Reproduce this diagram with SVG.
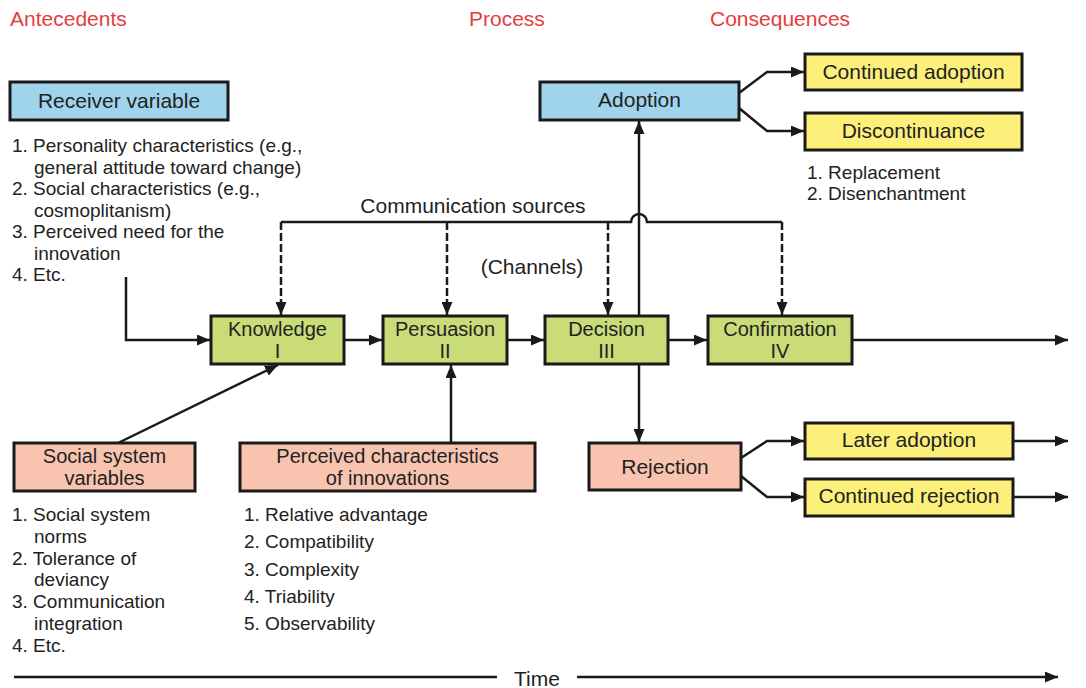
<svg xmlns="http://www.w3.org/2000/svg" width="1086" height="688" viewBox="0 0 1086 688">
  <style>
    text { font-family: "Liberation Sans", Arial, sans-serif; fill: #222; }
    .hdr { font-size: 21px; fill: #e63c3c; }
    .lbl { font-size: 21px; text-anchor: middle; }
    .lbl2 { font-size: 20px; text-anchor: middle; }
    .lst { font-size: 19px; }
    .box { stroke: #1a1a1a; stroke-width: 3; }
    .blue { fill: #9fd4ec; }
    .green { fill: #c9dc78; }
    .salmon { fill: #f8c4b0; }
    .yellow { fill: #fdf07a; }
    .line { fill: none; stroke: #1a1a1a; stroke-width: 2.5; }
    .dash { stroke-dasharray: 8 3; }
  </style>
  <defs>
    <marker id="arrow" markerUnits="userSpaceOnUse" markerWidth="13" markerHeight="11" refX="13" refY="5.5" orient="auto">
      <path d="M0,0 L13,5.5 L0,11 z" fill="#1a1a1a"/>
    </marker>
  </defs>
  <rect width="1086" height="688" fill="#ffffff"/>

  <!-- Column headings -->
  <text class="hdr" x="10" y="26">Antecedents</text>
  <text class="hdr" x="469" y="26">Process</text>
  <text class="hdr" x="710" y="26">Consequences</text>

  <!-- Connectors -->
  <g id="connectors">
    <!-- receiver variables into knowledge -->
    <path class="line" d="M126 277 V340 H210" marker-end="url(#arrow)"/>
    <!-- process chain -->
    <path class="line" d="M345 340 H382" marker-end="url(#arrow)"/>
    <path class="line" d="M508 340 H544" marker-end="url(#arrow)"/>
    <path class="line" d="M669 340 H707" marker-end="url(#arrow)"/>
    <path class="line" d="M853 340 H1068" marker-end="url(#arrow)"/>
    <!-- communication sources bus with hop over the adoption line -->
    <path class="line" d="M281 222 H631 A8 8 0 0 1 647 222 H782"/>
    <path class="line dash" d="M281 222 V315" marker-end="url(#arrow)"/>
    <path class="line dash" d="M447 222 V315" marker-end="url(#arrow)"/>
    <path class="line dash" d="M608 222 V315" marker-end="url(#arrow)"/>
    <path class="line dash" d="M782 222 V315" marker-end="url(#arrow)"/>
    <!-- decision outcomes -->
    <path class="line" d="M639 316 V121" marker-end="url(#arrow)"/>
    <path class="line" d="M639 364 V442" marker-end="url(#arrow)"/>
    <!-- social system and perceived characteristics -->
    <path class="line" d="M118 443 L278 365" marker-end="url(#arrow)"/>
    <path class="line" d="M451 443 V365" marker-end="url(#arrow)"/>
    <!-- adoption branches -->
    <path class="line" d="M739 93 L767 72 H804" marker-end="url(#arrow)"/>
    <path class="line" d="M739 108 L767 131 H804" marker-end="url(#arrow)"/>
    <!-- rejection branches -->
    <path class="line" d="M741 458 L767 441 H804" marker-end="url(#arrow)"/>
    <path class="line" d="M741 476 L767 497 H804" marker-end="url(#arrow)"/>
    <path class="line" d="M1013 441 H1068" marker-end="url(#arrow)"/>
    <path class="line" d="M1013 497 H1068" marker-end="url(#arrow)"/>
    <!-- time axis -->
    <path class="line" d="M14 677 H497"/>
    <path class="line" d="M577 677 H1058" marker-end="url(#arrow)"/>
  </g>

  <text class="lbl" x="473" y="213">Communication sources</text>
  <text class="lbl" x="532" y="274">(Channels)</text>
  <text class="lbl" x="537" y="686">Time</text>

  <!-- Antecedents -->
  <g id="receiver-variable">
    <rect class="box blue" x="10" y="82" width="218" height="38"/>
    <text class="lbl" x="119" y="108">Receiver variable</text>
    <text class="lst" x="12" y="152">1. Personality characteristics (e.g.,</text>
    <text class="lst" x="34" y="173.5">general attitude toward change)</text>
    <text class="lst" x="12" y="195">2. Social characteristics (e.g.,</text>
    <text class="lst" x="34" y="216.5">cosmoplitanism)</text>
    <text class="lst" x="12" y="238">3. Perceived need for the</text>
    <text class="lst" x="34" y="259.5">innovation</text>
    <text class="lst" x="12" y="281">4. Etc.</text>
  </g>

  <g id="social-system-variables">
    <rect class="box salmon" x="14" y="443" width="181" height="48"/>
    <text class="lbl2" x="104.5" y="463">Social system</text>
    <text class="lbl2" x="104.5" y="485">variables</text>
    <text class="lst" x="12" y="521">1. Social system</text>
    <text class="lst" x="34" y="543">norms</text>
    <text class="lst" x="12" y="565">2. Tolerance of</text>
    <text class="lst" x="34" y="586">deviancy</text>
    <text class="lst" x="12" y="608">3. Communication</text>
    <text class="lst" x="34" y="630">integration</text>
    <text class="lst" x="12" y="652">4. Etc.</text>
  </g>

  <g id="perceived-characteristics">
    <rect class="box salmon" x="240" y="443" width="295" height="48"/>
    <text class="lbl2" x="387.5" y="463">Perceived characteristics</text>
    <text class="lbl2" x="387.5" y="485">of innovations</text>
    <text class="lst" x="244" y="521">1. Relative advantage</text>
    <text class="lst" x="244" y="548">2. Compatibility</text>
    <text class="lst" x="244" y="575.5">3. Complexity</text>
    <text class="lst" x="244" y="603">4. Triability</text>
    <text class="lst" x="244" y="630">5. Observability</text>
  </g>

  <!-- Process stages -->
  <g id="knowledge">
    <rect class="box green" x="211" y="316" width="133" height="48"/>
    <text class="lbl2" x="277.5" y="336">Knowledge</text>
    <text class="lbl2" x="277.5" y="358">I</text>
  </g>
  <g id="persuasion">
    <rect class="box green" x="383" y="316" width="124" height="48"/>
    <text class="lbl2" x="445" y="336">Persuasion</text>
    <text class="lbl2" x="445" y="358">II</text>
  </g>
  <g id="decision">
    <rect class="box green" x="545" y="316" width="123" height="48"/>
    <text class="lbl2" x="606.5" y="336">Decision</text>
    <text class="lbl2" x="606.5" y="358">III</text>
  </g>
  <g id="confirmation">
    <rect class="box green" x="708" y="316" width="144" height="48"/>
    <text class="lbl2" x="780" y="336">Confirmation</text>
    <text class="lbl2" x="780" y="358">IV</text>
  </g>

  <!-- Consequences -->
  <g id="adoption">
    <rect class="box blue" x="540" y="82" width="199" height="38"/>
    <text class="lbl" x="639.5" y="107">Adoption</text>
  </g>
  <g id="continued-adoption">
    <rect class="box yellow" x="805" y="54" width="217" height="36"/>
    <text class="lbl" x="913.5" y="79">Continued adoption</text>
  </g>
  <g id="discontinuance">
    <rect class="box yellow" x="805" y="113" width="217" height="37"/>
    <text class="lbl" x="913.5" y="138">Discontinuance</text>
    <text class="lst" x="807" y="179">1. Replacement</text>
    <text class="lst" x="807" y="200">2. Disenchantment</text>
  </g>
  <g id="rejection">
    <rect class="box salmon" x="589" y="443" width="152" height="47"/>
    <text class="lbl" x="665" y="474">Rejection</text>
  </g>
  <g id="later-adoption">
    <rect class="box yellow" x="805" y="423" width="208" height="36"/>
    <text class="lbl" x="909" y="447">Later adoption</text>
  </g>
  <g id="continued-rejection">
    <rect class="box yellow" x="805" y="479" width="208" height="37"/>
    <text class="lbl" x="909" y="503">Continued rejection</text>
  </g>
</svg>
